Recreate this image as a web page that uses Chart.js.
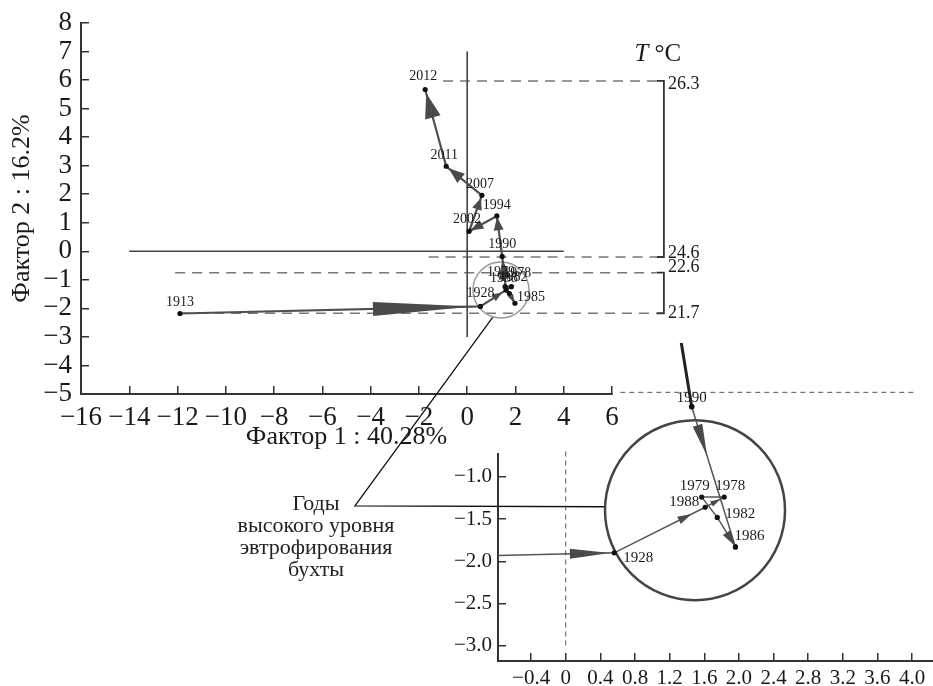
<!DOCTYPE html>
<html>
<head>
<meta charset="utf-8">
<script src="https://cdn.jsdelivr.net/npm/chart.js@4"></script>
<style>
  body { margin: 0; width: 933px; height: 686px; overflow: hidden; position: relative; background: #fff; }
  canvas { position: absolute; left: -40px; top: -40px; }
  #note {
    position: absolute; left: 216px; top: 492px; width: 200px;
    text-align: center; font: 22px 'Liberation Serif', serif; line-height: 22px; color: #222;
  }
</style>
</head>
<body>
<canvas id="mainChart" width="1013" height="766"></canvas>
<canvas id="insetChart" width="1013" height="766"></canvas>
<div id="note">Годы<br>высокого уровня<br>эвтрофирования<br>бухты</div>
<script>
// Trajectory of years in factor space (main panel)
const years   = ['1913', '1928', '1978', '1979', '1982', '1985', '1988', '1990', '1994', '2002', '2007', '2011', '2012'];
const factor1 = [-11.9, 0.55, 1.83, 1.57, 1.75, 1.98, 1.61, 1.45, 1.23, 0.08, 0.61, -0.87, -1.74];
const factor2 = [-2.18, -1.93, -1.24, -1.24, -1.48, -1.82, -1.36, -0.18, 1.24, 0.70, 1.96, 2.98, 5.67];

// Zoomed inset
const insetYears = ['1913', '1928', '1988', '1978', '1979', '1982', '1986'];
const insetF1    = [-11.9, 0.56, 1.61, 1.83, 1.57, 1.75, 1.96];
const insetF2    = [-2.18, -1.90, -1.36, -1.24, -1.24, -1.48, -1.83];
const insetLateYears = ['1994', '1990', '1986'];
const insetLateF1    = [1.23, 1.455, 1.96];
const insetLateF2    = [1.24, -0.17, -1.83];

// Temperature levels (T °C) and where their dashed lines sit on factor 2
const tempLabels    = ['26.3', '24.6', '22.6', '21.7'];
const tempLevelF2   = [5.97, -0.2, -0.75, -2.17];
const tempLineStart = [-1.0, -1.6, -12.1, -11.9];

// Tick labels
const mainXTicks  = [-16, -14, -12, -10, -8, -6, -4, -2, 0, 2, 4, 6];
const mainYTicks  = [-5, -4, -3, -2, -1, 0, 1, 2, 3, 4, 5, 6, 7, 8];
const insetXTicks = [-0.4, 0, 0.4, 0.8, 1.2, 1.6, 2.0, 2.4, 2.8, 3.2, 3.6, 4.0];
const insetYTicks = [-1.0, -1.5, -2.0, -2.5, -3.0];

const FONT = "'Liberation Serif', serif";
const MINUS = '\u2212';
const bracketX = 8.15, dashEndX = 7.85;

// label offsets in px (label centre relative to point)
const mainLabelOffsets = [[0, -11], [0, -13], [6, -13], [-4, -14], [4, -16], [16, -6], [-2, -12],
                          [0, -12], [0, -11], [-2, -12], [-2, -11], [-2, -11], [-2, -13]];
const insetLabelOffsets = [[0, 0], [24, 5], [-21, -5], [6, -11], [-7, -11], [23, -3], [14, -11]];

function pts(xs, ys) {
    return xs.map((x, i) => ({ x: x, y: ys[i] }));
}

function fmtInt(v) {
    return (v < 0 ? MINUS : '') + Math.abs(v);
}

function fmtDec(v) {
    if (v === 0) return '0';
    return (v < 0 ? MINUS : '') + Math.abs(v).toFixed(1);
}

// Draw arrow heads along segments of datasets that ask for them
const arrowPlugin = {
    id: 'arrowHeads',
    afterDatasetsDraw(chart) {
        const ctx = chart.ctx;
        chart.data.datasets.forEach((ds, i) => {
            if (!ds.arrowHeads) return;
            const els = chart.getDatasetMeta(i).data;
            ctx.save();
            ctx.fillStyle = ds.arrowColor || ds.borderColor;
            ds.arrowHeads.forEach(a => {
                const p0 = els[a.seg], p1 = els[a.seg + 1];
                const dx = p1.x - p0.x, dy = p1.y - p0.y;
                const d = Math.hypot(dx, dy);
                const ux = dx / d, uy = dy / d;
                const tx = p0.x + dx * a.at, ty = p0.y + dy * a.at;
                const bx = tx - ux * a.len, by = ty - uy * a.len;
                ctx.beginPath();
                ctx.moveTo(tx, ty);
                ctx.lineTo(bx - uy * a.w, by + ux * a.w);
                ctx.lineTo(bx + uy * a.w, by - ux * a.w);
                ctx.closePath();
                ctx.fill();
            });
            ctx.restore();
        });
    }
};

// Year labels next to points
const yearLabelPlugin = {
    id: 'yearLabels',
    afterDatasetsDraw(chart, args, opts) {
        const ctx = chart.ctx;
        ctx.save();
        ctx.font = opts.size + 'px ' + FONT;
        ctx.fillStyle = '#1a1a1a';
        ctx.textAlign = 'center';
        ctx.textBaseline = 'middle';
        opts.sets.forEach(set => {
            const els = chart.getDatasetMeta(set.dataset).data;
            set.labels.forEach((txt, k) => {
                if (!txt || !els[k]) return;
                const off = set.offsets[k];
                ctx.fillText(txt, els[k].x + off[0], els[k].y + off[1]);
            });
        });
        ctx.restore();
    }
};

// Temperature labels beside the brackets and the T °C header
const tempTextPlugin = {
    id: 'tempText',
    afterDatasetsDraw(chart) {
        const ctx = chart.ctx;
        const xs = chart.scales.x, ys = chart.scales.y;
        const dy = [3, -4, -5, 0];
        ctx.save();
        ctx.fillStyle = '#1a1a1a';
        ctx.textBaseline = 'middle';
        ctx.textAlign = 'left';
        ctx.font = '18px ' + FONT;
        tempLabels.forEach((t, i) => {
            ctx.fillText(t, xs.getPixelForValue(bracketX) + 4, ys.getPixelForValue(tempLevelF2[i]) + dy[i]);
        });
        // header
        ctx.font = 'italic 25px ' + FONT;
        const wT = ctx.measureText('T').width;
        ctx.font = '25px ' + FONT;
        const wC = ctx.measureText(' \u00B0C').width;
        const cx = xs.getPixelForValue(7.9), cy = ys.getPixelForValue(6.9);
        const x0 = cx - (wT + wC) / 2;
        ctx.font = 'italic 25px ' + FONT;
        ctx.fillText('T', x0, cy);
        ctx.font = '25px ' + FONT;
        ctx.fillText(' \u00B0C', x0 + wT, cy);
        ctx.restore();
    }
};

function lineSet(data, color, width, extra) {
    return Object.assign({
        data: data, showLine: true, borderColor: color, borderWidth: width,
        pointRadius: 0, fill: false
    }, extra || {});
}

function axisCommon(fontSize, pad) {
    return {
        grid: { display: true, drawOnChartArea: false, drawTicks: true, tickLength: -8, color: '#333', lineWidth: 1.5 },
        border: { display: true, color: '#333', width: 2 },
        ticks: { color: '#1a1a1a', font: { family: FONT, size: fontSize }, padding: pad, autoSkip: false, maxRotation: 0 }
    };
}

// ---------- main panel ----------
const mainDatasets = [
    lineSet(pts(factor1, factor2), '#505050', 2.2, {
        pointRadius: 2.6, pointBackgroundColor: '#111', pointBorderWidth: 0,
        arrowColor: '#4a4a4a',
        arrowHeads: [
            { seg: 0, at: 0.975, len: 100, w: 7 },
            { seg: 1, at: 0.7, len: 10, w: 4 },
            { seg: 4, at: 0.9, len: 8, w: 3 },
            { seg: 6, at: 0.92, len: 20, w: 6 },
            { seg: 7, at: 0.97, len: 13, w: 5 },
            { seg: 8, at: 0.95, len: 13, w: 5 },
            { seg: 9, at: 0.93, len: 12, w: 5 },
            { seg: 10, at: 0.93, len: 16, w: 6 },
            { seg: 11, at: 0.95, len: 25, w: 8 }
        ]
    }),
    { data: [{ x: 1.40, y: -1.356 }], showLine: false, pointRadius: 28, pointBackgroundColor: 'rgba(0,0,0,0)',
      pointBorderColor: '#9a9a9a', pointBorderWidth: 1.5 },
    lineSet([{ x: -14, y: 0 }, { x: 4, y: 0 }], '#444', 1.6),
    lineSet([{ x: 0, y: 7 }, { x: 0, y: -3 }], '#444', 1.6),
    lineSet([{ x: 1.07, y: -2.30 }, { x: -4.65, y: -8.92 }, { x: 5.71, y: -8.95 }], '#111', 1.3, { clip: false })
];
tempLabels.forEach((t, i) => {
    mainDatasets.push(lineSet([{ x: tempLineStart[i], y: tempLevelF2[i] }, { x: dashEndX, y: tempLevelF2[i] }],
        '#777', 1.6, { borderDash: [10, 7], clip: false }));
});
for (let i = 0; i < tempLabels.length; i += 2) {
    mainDatasets.push(lineSet([
        { x: dashEndX, y: tempLevelF2[i] }, { x: bracketX, y: tempLevelF2[i] },
        { x: bracketX, y: tempLevelF2[i + 1] }, { x: dashEndX, y: tempLevelF2[i + 1] }
    ], '#333', 1.8, { clip: false }));
}

const mainX = axisCommon(27, 16);
Object.assign(mainX, {
    type: 'linear', position: 'bottom', min: -16, max: 6,
    afterBuildTicks: s => { s.ticks = mainXTicks.map(v => ({ value: v })); },
    afterFit: s => { s.height = 58.6; },
    title: { display: true, text: 'Фактор 1 : 40.28%', color: '#1a1a1a', font: { family: FONT, size: 26 }, padding: 0 }
});
mainX.ticks.callback = v => fmtInt(v);

const mainY = axisCommon(27, 17);
Object.assign(mainY, {
    type: 'linear', position: 'left', min: -5, max: 8,
    afterBuildTicks: s => { s.ticks = mainYTicks.map(v => ({ value: v })); },
    afterFit: s => { s.width = 74; },
    title: { display: true, text: 'Фактор 2 : 16.2%', color: '#1a1a1a', font: { family: FONT, size: 26 }, padding: 0 }
});
mainY.ticks.callback = v => fmtInt(v);

new Chart(document.getElementById('mainChart'), {
    type: 'scatter',
    data: { datasets: mainDatasets },
    options: {
        responsive: false, animation: false, events: [],
        layout: { autoPadding: false, padding: { left: 47, top: 63, right: 361, bottom: 273.4 } },
        scales: { x: mainX, y: mainY },
        plugins: {
            legend: { display: false }, tooltip: { enabled: false },
            yearLabels: { size: 14, sets: [{ dataset: 0, labels: years, offsets: mainLabelOffsets }] }
        }
    },
    plugins: [arrowPlugin, yearLabelPlugin, tempTextPlugin]
});

// ---------- inset ----------
const insetDatasets = [
    lineSet(pts(insetF1, insetF2), '#555', 1.5, {
        pointRadius: 2.6, pointBackgroundColor: '#111', pointBorderWidth: 0,
        arrowColor: '#4a4a4a',
        arrowHeads: [
            { seg: 0, at: 0.996, len: 40, w: 5 },
            { seg: 1, at: 0.85, len: 14, w: 4 },
            { seg: 2, at: 0.8, len: 10, w: 3 },
            { seg: 5, at: 0.95, len: 15, w: 4.5 }
        ]
    }),
    lineSet(pts(insetLateF1.slice(0, 2), insetLateF2.slice(0, 2)), '#222', 3, {
        pointRadius: 2.6, pointBackgroundColor: '#111', pointBorderWidth: 0
    }),
    lineSet(pts(insetLateF1.slice(1), insetLateF2.slice(1)), '#555', 1.5, {
        pointRadius: 2.6, pointBackgroundColor: '#111', pointBorderWidth: 0,
        arrowColor: '#4a4a4a',
        arrowHeads: [{ seg: 0, at: 0.35, len: 32, w: 5 }]
    }),
    { data: [{ x: 1.493, y: -1.395 }], showLine: false, pointRadius: 90, pointBackgroundColor: 'rgba(0,0,0,0)',
      pointBorderColor: '#444', pointBorderWidth: 2.5 },
    lineSet([{ x: 0, y: -0.70 }, { x: 0, y: -3.02 }], '#555', 1, { borderDash: [5, 4] }),
    lineSet([{ x: 0.63, y: 0 }, { x: 4.03, y: 0 }], '#555', 1, { borderDash: [5, 4] }),
    lineSet([{ x: -0.782, y: -0.719 }, { x: -0.782, y: -3.18 }], '#333', 2, { clip: false })
];

const insetX = axisCommon(21, 12.4);
Object.assign(insetX, {
    type: 'linear', position: 'bottom', min: -0.782, max: 4.241,
    afterBuildTicks: s => { s.ticks = insetXTicks.map(v => ({ value: v })); },
    afterFit: s => { s.height = 25; }
});
insetX.ticks.callback = v => fmtDec(v);

const insetY = axisCommon(21, 14);
Object.assign(insetY, {
    type: 'linear', position: 'left', min: -3.18, max: 0.584,
    afterBuildTicks: s => { s.ticks = insetYTicks.map(v => ({ value: v })); },
    afterFit: s => { s.width = 60; }
});
insetY.border = { display: false };
insetY.ticks.callback = v => fmtDec(v);

new Chart(document.getElementById('insetChart'), {
    type: 'scatter',
    data: { datasets: insetDatasets },
    options: {
        responsive: false, animation: false, events: [],
        layout: { autoPadding: false, padding: { left: 478, top: 383, right: 40, bottom: 40 } },
        scales: { x: insetX, y: insetY },
        plugins: {
            legend: { display: false }, tooltip: { enabled: false },
            yearLabels: {
                size: 15,
                sets: [
                    { dataset: 0, labels: ['', '1928', '1988', '1978', '1979', '1982', '1986'], offsets: insetLabelOffsets },
                    { dataset: 1, labels: ['', '1990'], offsets: [[0, 0], [0, -9]] }
                ]
            }
        }
    },
    plugins: [arrowPlugin, yearLabelPlugin]
});
</script>
</body>
</html>
